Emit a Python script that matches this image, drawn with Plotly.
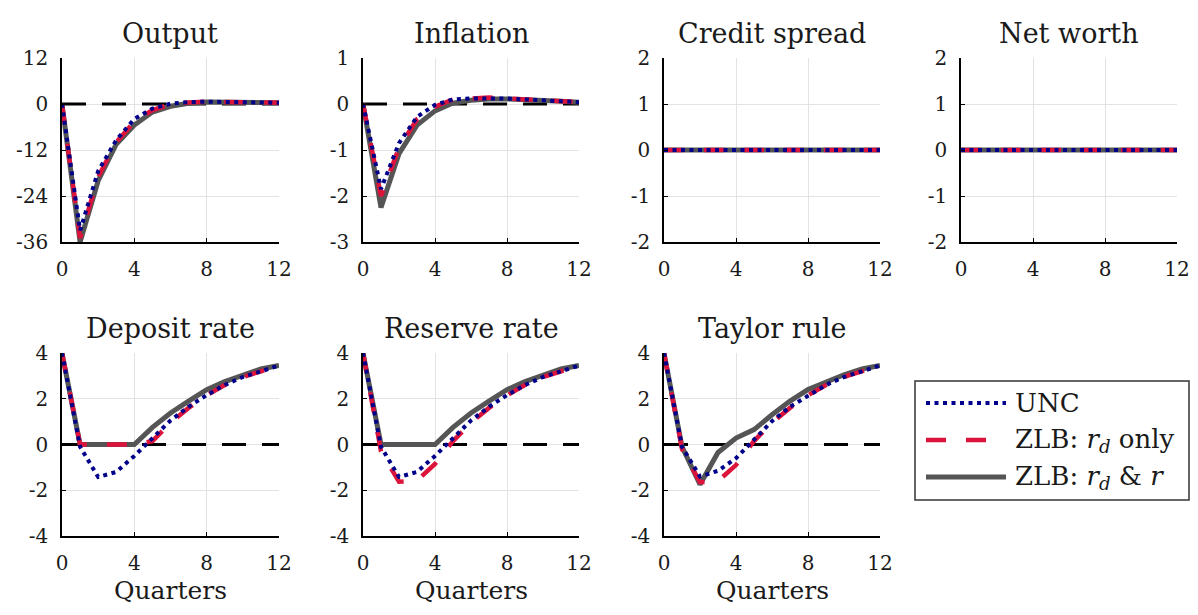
import plotly.graph_objects as go

# ---------------- data ----------------
quarters = list(range(13))

output_unc = [0, -33, -17.5, -9.4, -3.9, -1.2, 0.1, 0.5, 0.6, 0.6, 0.5, 0.4, 0.3]
output_rd = [0, -35, -19, -10, -4.6, -1.6, -0.1, 0.4, 0.6, 0.6, 0.5, 0.4, 0.3]
output_both = [0, -36, -20, -10.5, -5.5, -2.1, -0.6, 0.2, 0.5, 0.5, 0.45, 0.35, 0.3]

inflation_unc = [0, -1.85, -0.85, -0.28, -0.02, 0.1, 0.12, 0.13, 0.12, 0.1, 0.08, 0.06, 0.04]
inflation_rd = [0, -2.0, -0.95, -0.33, -0.06, 0.1, 0.12, 0.14, 0.12, 0.1, 0.08, 0.06, 0.04]
inflation_both = [0, -2.25, -1.08, -0.46, -0.15, 0.02, 0.08, 0.11, 0.11, 0.1, 0.08, 0.06, 0.04]

credit_unc = [0] * 13
credit_rd = [0] * 13
credit_both = [0] * 13

networth_unc = [0] * 13
networth_rd = [0] * 13
networth_both = [0] * 13

deposit_unc = [4, -0.1, -1.42, -1.2, -0.5, 0.26, 1.05, 1.65, 2.16, 2.6, 2.95, 3.2, 3.45]
deposit_rd = [4, 0, 0, 0, 0, 0.15, 0.95, 1.6, 2.15, 2.6, 2.95, 3.2, 3.45]
deposit_both = [4, 0, 0, 0, 0, 0.75, 1.38, 1.9, 2.4, 2.75, 3.05, 3.3, 3.45]

reserve_unc = [4, -0.1, -1.42, -1.2, -0.5, 0.26, 1.05, 1.65, 2.16, 2.6, 2.95, 3.2, 3.45]
reserve_rd = [4, -0.3, -1.63, -1.58, -0.85, 0.15, 0.95, 1.6, 2.15, 2.6, 2.95, 3.2, 3.45]
reserve_both = [4, 0, 0, 0, 0, 0.75, 1.38, 1.9, 2.4, 2.75, 3.05, 3.3, 3.45]

taylor_unc = [4, -0.1, -1.4, -1.15, -0.6, 0.2, 1.02, 1.65, 2.15, 2.6, 2.95, 3.2, 3.45]
taylor_rd = [4, -0.2, -1.65, -1.6, -0.9, 0.15, 0.95, 1.6, 2.15, 2.6, 2.95, 3.2, 3.45]
taylor_both = [4, -0.1, -1.75, -0.35, 0.28, 0.65, 1.3, 1.9, 2.4, 2.75, 3.05, 3.3, 3.45]

zero_line = [0] * 13

titles = ["Output", "Inflation", "Credit spread", "Net worth",
          "Deposit rate", "Reserve rate", "Taylor rule"]

x_ticks = [0, 4, 8, 12]
x_ticktext = ["0", "4", "8", "12"]

y_ticks_output = [-36, -24, -12, 0, 12]
y_ticktext_output = ["-36", "-24", "-12", "0", "12"]
y_ticks_infl = [-3, -2, -1, 0, 1]
y_ticktext_infl = ["-3", "-2", "-1", "0", "1"]
y_ticks_2 = [-2, -1, 0, 1, 2]
y_ticktext_2 = ["-2", "-1", "0", "1", "2"]
y_ticks_4 = [-4, -2, 0, 2, 4]
y_ticktext_4 = ["-4", "-2", "0", "2", "4"]

series_names = ["UNC", "ZLB: <i>r</i><sub><i>d</i></sub> only",
                "ZLB: <i>r</i><sub><i>d</i></sub> &amp; <i>r</i>"]

# ---------------- styling ----------------
FONT = "DejaVu Serif, Liberation Serif, Times New Roman, serif"
OFF = 8                           # browser page margin
W, H = 1198 - 2 * OFF, 615 - 2 * OFF  # figure fits the window without scrolling


def px(xp):
    return (xp - OFF) / W


def py(yp):
    return 1 - (yp - OFF) / H


col_px = [(62, 279), (363, 579), (664, 880), (961, 1177)]
row_px = [(58, 242), (353, 536)]

styles = {
    "both": dict(color="#555555", width=5, dash="solid"),
    "rd": dict(color="#DC143C", width=4.5, dash="20px,20px"),
    "unc": dict(color="#00008B", width=4, dash="4px,4.5px"),
}

panels = [
    (output_unc, output_rd, output_both, y_ticks_output, y_ticktext_output),
    (inflation_unc, inflation_rd, inflation_both, y_ticks_infl, y_ticktext_infl),
    (credit_unc, credit_rd, credit_both, y_ticks_2, y_ticktext_2),
    (networth_unc, networth_rd, networth_both, y_ticks_2, y_ticktext_2),
    (deposit_unc, deposit_rd, deposit_both, y_ticks_4, y_ticktext_4),
    (reserve_unc, reserve_rd, reserve_both, y_ticks_4, y_ticktext_4),
    (taylor_unc, taylor_rd, taylor_both, y_ticks_4, y_ticktext_4),
]

fig = go.Figure()
layout = dict(
    width=W, height=H, autosize=False,
    margin=dict(l=0, r=0, t=0, b=0, pad=0, autoexpand=False),
    paper_bgcolor="white", plot_bgcolor="white",
    showlegend=False,
    font=dict(family=FONT, color="#1a1a1a"),
)
annotations = []
shapes = []

for i, (unc, rd, both, yt, ytt) in enumerate(panels):
    r, c = divmod(i, 4)
    x0, x1 = col_px[c]
    ytop, ybot = row_px[r]
    xa = "x" if i == 0 else f"x{i+1}"
    ya = "y" if i == 0 else f"y{i+1}"
    xkey = "xaxis" if i == 0 else f"xaxis{i+1}"
    ykey = "yaxis" if i == 0 else f"yaxis{i+1}"

    fig.add_trace(go.Scatter(x=quarters, y=zero_line, mode="lines", xaxis=xa, yaxis=ya,
                             line=dict(color="black", width=3, dash="24px,16px"),
                             hoverinfo="skip"))
    for key, data in (("both", both), ("rd", rd), ("unc", unc)):
        fig.add_trace(go.Scatter(x=quarters, y=data, mode="lines", xaxis=xa, yaxis=ya,
                                 line=styles[key]))

    layout[xkey] = dict(
        domain=[px(x0), px(x1)], anchor=ya, range=[0, 12], automargin=False,
        tickvals=x_ticks, ticktext=x_ticktext,
        showline=True, linecolor="black", linewidth=1.5,
        ticks="inside", ticklen=4, tickcolor="black",
        showgrid=True, gridcolor="#e3e3e3", gridwidth=1, zeroline=False,
        tickfont=dict(family=FONT, size=20, color="#1a1a1a"),
        ticklabelstandoff=8,
    )
    layout[ykey] = dict(
        domain=[py(ybot), py(ytop)], anchor=xa, range=[yt[0], yt[-1]],
        automargin=False,
        tickvals=yt, ticktext=ytt,
        showline=True, linecolor="black", linewidth=1.5,
        ticks="inside", ticklen=4, tickcolor="black",
        showgrid=True, gridcolor="#e3e3e3", gridwidth=1, zeroline=False,
        tickfont=dict(family=FONT, size=20, color="#1a1a1a"),
        ticklabelstandoff=8,
    )
    annotations.append(dict(
        text=titles[i], xref="paper", yref="paper",
        x=px((x0 + x1) / 2), y=py(ytop - 25),
        xanchor="center", yanchor="middle", showarrow=False,
        font=dict(family=FONT, size=27, color="#1a1a1a"),
    ))
    if r == 1:
        annotations.append(dict(
            text="Quarters", xref="paper", yref="paper",
            x=px((x0 + x1) / 2), y=0,
            xanchor="center", yanchor="bottom", showarrow=False,
            font=dict(family=FONT, size=25, color="#1a1a1a"),
        ))

# ---------------- manual legend ----------------
lx0, lx1, ly0, ly1 = 915, 1189, 381, 500
shapes.append(dict(type="rect", xref="paper", yref="paper",
                   x0=px(lx0), x1=px(lx1), y0=py(ly1), y1=py(ly0),
                   line=dict(color="#333333", width=1.5), fillcolor="white", layer="above"))
leg_rows = [403, 440, 477]
for (key, name, yy) in zip(["unc", "rd", "both"], series_names, leg_rows):
    st = styles[key]
    shapes.append(dict(type="line", xref="paper", yref="paper",
                       x0=px(926), x1=px(1006), y0=py(yy), y1=py(yy),
                       line=dict(color=st["color"], width=st["width"], dash=st["dash"]),
                       layer="above"))
    annotations.append(dict(
        text=name, xref="paper", yref="paper", x=px(1013), y=py(yy),
        xanchor="left", yanchor="middle", showarrow=False,
        font=dict(family=FONT, size=26, color="#1a1a1a"),
    ))

layout["annotations"] = annotations
layout["shapes"] = shapes
fig.update_layout(**layout)
fig.write_html("out.html")
